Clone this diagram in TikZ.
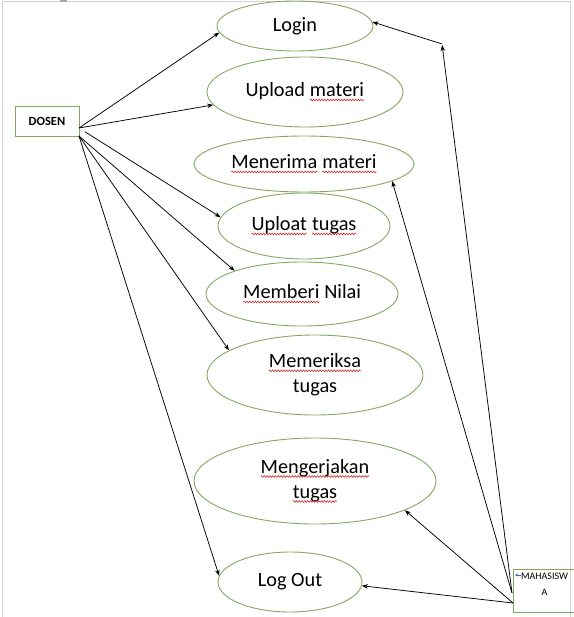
\documentclass[tikz,border=0pt]{standalone}
\usepackage{fontspec}
\setmainfont{Carlito}
\usetikzlibrary{shapes.geometric,arrows.meta,decorations.pathmorphing}
\definecolor{ucgreen}{RGB}{128,170,95}
\definecolor{sqred}{RGB}{205,35,35}
\definecolor{tipblue}{RGB}{70,100,160}
\newcommand{\sqw}[1]{\tikz[baseline=(sqword.base),x=1pt,y=1pt]{%
  \node[shape=rectangle,inner sep=0pt,outer sep=0pt,minimum width=0pt,minimum height=0pt,
        draw=none,text=black,anchor=center] (sqword) {#1};%
  \draw[sqred, line width=0.55pt, decorate, decoration={snake, amplitude=0.9pt, segment length=2.8pt}]
    ([yshift=-3pt]sqword.base west) -- ([yshift=-3pt]sqword.base east);}}
\begin{document}
\begin{tikzpicture}[x=1pt,y=-1pt,
  uc/.style={ellipse, draw=ucgreen, line width=0.9pt, inner sep=0pt, align=center,
             font=\fontsize{20.3}{25}\selectfont},
  actor/.style={draw=ucgreen, line width=0.9pt, inner sep=0pt},
  arr/.style={-{Stealth[length=6pt,width=4.5pt]}, line width=0.75pt, black}]
\useasboundingbox (0,0) rectangle (573,617);
\draw[gray!35, line width=0.8pt] (2,617) -- (2,1) -- (570,1) -- (570,617);
\fill[gray!70] (60,0) rectangle (67,2);

\node[uc, minimum width=156, minimum height=50] (login) at (295,26) {Login};
\node[uc, minimum width=196, minimum height=70] (upload) at (305,92) {Upload \sqw{materi}};
\node[uc, minimum width=220, minimum height=56] (terima) at (304,164) {\sqw{Menerima} \sqw{materi}};
\node[uc, minimum width=172, minimum height=66] (uploat) at (304,226) {\sqw{Uploat} \sqw{tugas}};
\node[uc, minimum width=192, minimum height=64] (nilai) at (302,294) {\sqw{Memberi} Nilai};
\node[uc, minimum width=216, minimum height=80] (periksa) at (315,375) {\sqw{Memeriksa}\\tugas};
\node[uc, minimum width=242, minimum height=86] (kerja) at (315,481) {\sqw{Mengerjakan}\\\sqw{tugas}};
\node[uc, minimum width=144, minimum height=60] (logout) at (290,582) {Log Out};

\node[actor, minimum width=64, minimum height=30, font=\bfseries\fontsize{12.5}{15}\selectfont] (dosen) at (47,121) {DOSEN};
\node[actor, minimum width=63, minimum height=43,
  label={[anchor=north, align=center, font=\fontsize{10}{16}\selectfont, inner sep=0pt, yshift=-4pt]north:MAHASISW\\A}] (mhs) at (544.5,590.5) {};

\coordinate (d1) at (79,128);
\coordinate (d2) at (79,136);
\coordinate (m1) at (512,593);
\coordinate (m2) at (513,603);
\coordinate (bend) at (442,44);

\draw[arr] (d1) -- (login.185);
\draw[arr] (d1) -- (upload.188);
\draw[arr, shorten <=7pt] (d1) -- (uploat.174);
\draw[arr] (d2) -- (nilai.161);
\draw[arr] (d2) -- (periksa.164);
\draw[arr] (d2) -- (logout.175);
\draw[arr] (m2) -- (logout.357);
\draw[arr] (m2) -- (kerja.342);
\draw[arr] (m1) -- (terima.349);
\draw[arr, shorten >=1pt] (m1) -- (bend);
\draw[arr] (bend) -- (login.3);
\draw[-{Stealth[length=3pt,width=3pt]}, tipblue, line width=0.6pt] (521,575) -- (515,575);
\end{tikzpicture}
\end{document}
